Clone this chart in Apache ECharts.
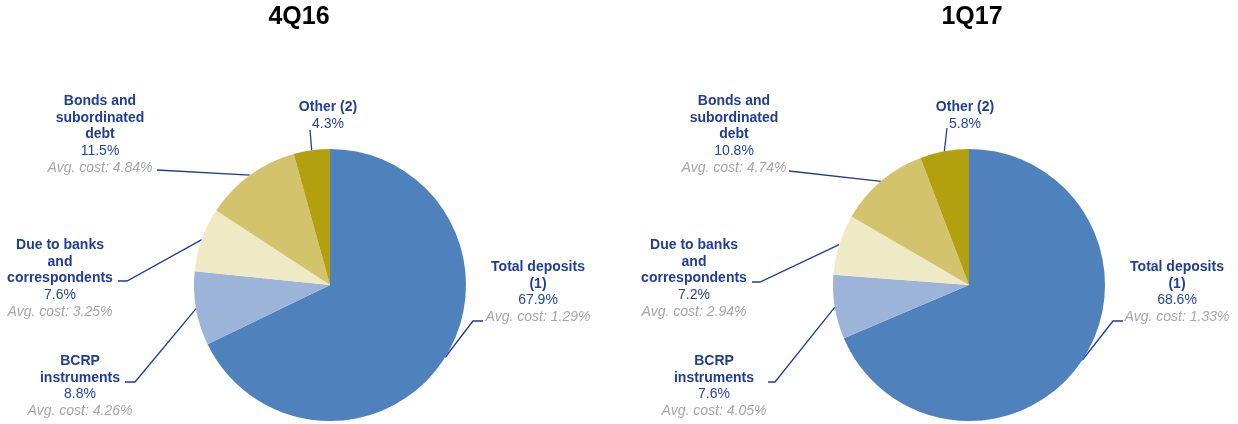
<!DOCTYPE html>
<html>
<head>
<meta charset="utf-8">
<script src="https://cdn.jsdelivr.net/npm/echarts@6/dist/echarts.min.js"></script>
<style>
  html, body { margin: 0; padding: 0; background: #fff; }
  #chart { width: 1238px; height: 424px; }
</style>
</head>
<body>
<div id="chart"></div>
<script>
var periods = ['4Q16', '1Q17']
var categories = [
  'Total deposits\n(1)',
  'BCRP\ninstruments',
  'Due to banks\nand\ncorrespondents',
  'Bonds and\nsubordinated\ndebt',
  'Other (2)'
]
var share4Q16 = [67.9, 8.8, 7.6, 11.5, 4.3]
var share1Q17 = [68.6, 7.6, 7.2, 10.8, 5.8]
var cost4Q16 = ['1.29%', '4.26%', '3.25%', '4.84%', null]
var cost1Q17 = ['1.33%', '4.05%', '2.94%', '4.74%', null]

// layout only: pie centres, label anchors (centre of first text line) and label line elbows
var colors = ['#4f81bd', '#9db4d9', '#efeac6', '#d2c36c', '#b3a00f']
var pieCenters = [[330, 285], [969, 285]]
var titleX = [299, 972]
var labelPos = [
  [[538, 267], [80, 361], [60, 245], [100, 101], [328, 107]],
  [[1177, 267], [714, 361], [694, 245], [734, 101], [965, 107]]
]
var lineElbows = [
  [[[473, 321], [483, 321]], [[135, 382], [125, 382]], [[127, 281], [118, 281]], [[157, 170]], [[310, 130]]],
  [[[1113, 321], [1123, 321]], [[775, 382], [768, 382]], [[760, 282], [752, 282]], [[789, 171]], [[947, 128]]]
]
var LH = 16.8

var chart = echarts.init(document.getElementById('chart'))

function buildData(values, costs) {
  return categories.map(function (c, i) {
    return { name: c, value: values[i], cost: costs[i], itemStyle: { color: colors[i] } }
  })
}

function makeSeries(idx, values, costs) {
  return {
    type: 'pie',
    name: periods[idx],
    center: pieCenters[idx],
    radius: 136,
    startAngle: 90,
    clockwise: true,
    animation: false,
    avoidLabelOverlap: false,
    itemStyle: { borderWidth: 0 },
    label: {
      show: true,
      position: 'outside',
      fontFamily: 'Liberation Sans, Arial, sans-serif',
      lineHeight: LH,
      formatter: function (p) {
        var lines = p.name.split('\n').map(function (l) { return '{n|' + l + '}' })
        lines.push('{p|' + p.value.toFixed(1) + '%}')
        if (p.data.cost) lines.push('{c|Avg. cost: ' + p.data.cost + '}')
        return lines.join('\n')
      },
      rich: {
        n: { fontSize: 14, fontWeight: 'bold', color: '#1f3d99', lineHeight: LH, align: 'center', fontFamily: 'Liberation Sans' },
        p: { fontSize: 14, color: '#2445a6', lineHeight: LH, align: 'center', fontFamily: 'Liberation Sans' },
        c: { fontSize: 14, fontStyle: 'italic', color: '#a6a6a6', lineHeight: LH, align: 'center', fontFamily: 'Liberation Sans' }
      }
    },
    labelLine: {
      show: true,
      lineStyle: { color: '#1f3d99', width: 1.3 }
    },
    labelLayout: function (params) {
      var pos = labelPos[idx][params.dataIndex]
      var pts = [params.labelLinePoints ? params.labelLinePoints[0] : pos]
      lineElbows[idx][params.dataIndex].forEach(function (q) { pts.push(q) })
      return {
        x: pos[0],
        y: pos[1] - LH / 2,
        align: 'center',
        verticalAlign: 'top',
        labelLinePoints: pts
      }
    },
    emphasis: { disabled: true },
    data: buildData(values, costs)
  }
}

var option = {
  backgroundColor: '#fff',
  title: periods.map(function (t, i) {
    return {
      text: t,
      left: titleX[i],
      top: 5,
      padding: 0,
      textAlign: 'center',
      textStyle: { fontSize: 25, fontWeight: 'bold', color: '#000', fontFamily: 'Liberation Sans' }
    }
  }),
  series: [
    makeSeries(0, share4Q16, cost4Q16),
    makeSeries(1, share1Q17, cost1Q17)
  ]
}
chart.setOption(option)
</script>
</body>
</html>
